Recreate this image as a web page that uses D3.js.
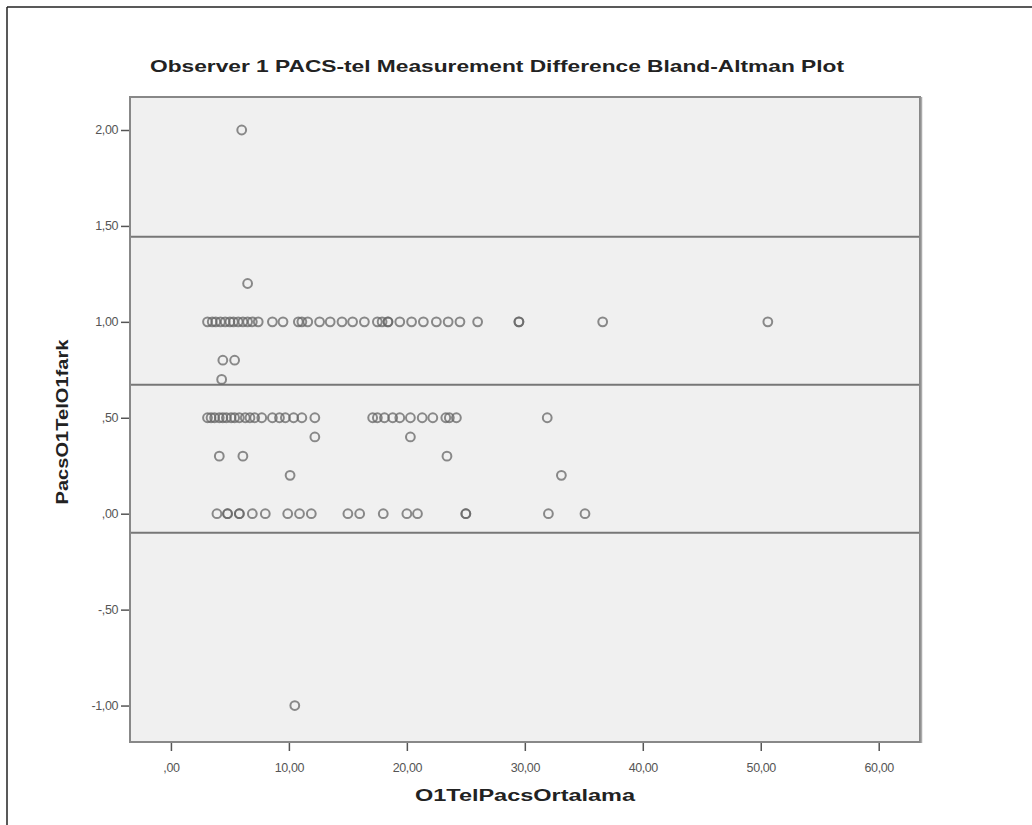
<!DOCTYPE html>
<html>
<head>
<meta charset="utf-8">
<script src="https://cdn.jsdelivr.net/npm/d3@7"></script>
<style>
  body { margin: 0; background: #fff; }
  svg { display: block; font-family: "Liberation Sans", Arial, sans-serif; }
</style>
</head>
<body>
<div id="chart"></div>
<script>
// mean of the two measurements (x) per difference row (y)
const row200 = [6.0];
const row120 = [6.5];
const row100 = [3.1, 3.5, 3.8, 4.2, 4.6, 5.0, 5.3, 5.7, 6.1, 6.5, 6.9, 7.4, 8.6, 9.5, 10.8, 11.1, 11.6,
  12.6, 13.5, 14.5, 15.4, 16.4, 17.5, 17.9, 18.4, 18.4, 19.4, 20.4, 21.4, 22.5, 23.5, 24.5, 26.0,
  29.5, 29.5, 36.6, 50.6];
const row080 = [4.4, 5.4];
const row070 = [4.3];
const row050 = [3.1, 3.4, 3.7, 4.1, 4.4, 4.7, 5.1, 5.4, 5.8, 6.3, 6.7, 7.1, 7.7, 8.6, 9.2, 9.7, 10.4,
  11.1, 12.2, 17.1, 17.5, 18.1, 18.8, 19.4, 20.3, 21.3, 22.2, 23.3, 23.6, 24.2, 31.9];
const row040 = [12.2, 20.3];
const row030 = [4.1, 6.1, 23.4];
const row020 = [10.1, 33.1];
const row000 = [3.9, 4.8, 4.8, 5.8, 5.8, 6.9, 8.0, 9.9, 10.9, 11.9, 15.0, 16.0, 18.0, 20.0, 20.9,
  25.0, 25.0, 32.0, 35.1];
const rowM100 = [10.5];

const rows = [[2.0, row200], [1.2, row120], [1.0, row100], [0.8, row080], [0.7, row070],
  [0.5, row050], [0.4, row040], [0.3, row030], [0.2, row020], [0.0, row000], [-1.0, rowM100]];

// mean difference and limits of agreement
const refLines = [1.443, 0.672, -0.099];

const xTicks = [0, 10, 20, 30, 40, 50, 60];
const yTicks = [-1, -0.5, 0, 0.5, 1, 1.5, 2];

const W = 1032, H = 825;
const plot = { left: 130, right: 920, top: 97, bottom: 742 };

const points = [];
rows.forEach(([d, xs]) => xs.forEach(m => points.push({ x: m, y: d })));

const svg = d3.select('#chart').append('svg')
  .attr('width', W).attr('height', H);

// figure border (top and left visible)
svg.append('line').attr('x1', 7).attr('y1', 7).attr('x2', W).attr('y2', 7)
  .attr('stroke', '#222').attr('stroke-width', 1.5);
svg.append('line').attr('x1', 7).attr('y1', 7).attr('x2', 7).attr('y2', H)
  .attr('stroke', '#222').attr('stroke-width', 1.5);

const x = d3.scaleLinear().domain([-3.47, 63.5]).range([plot.left, plot.right]);
const y = d3.scaleLinear().domain([-1.19, 2.172]).range([plot.bottom, plot.top]);

const fmt = v => {
  const s = Math.abs(v).toFixed(2).replace('.', ',');
  const t = s.startsWith('0') ? s.slice(1) : s;
  return (v < 0 ? '-' : '') + t;
};

svg.append('rect')
  .attr('x', plot.left).attr('y', plot.top)
  .attr('width', plot.right - plot.left).attr('height', plot.bottom - plot.top)
  .attr('fill', '#f0f0f0');

svg.selectAll('.ref')
  .data(refLines)
  .join('line')
  .attr('class', 'ref')
  .attr('x1', plot.left).attr('x2', plot.right)
  .attr('y1', d => y(d)).attr('y2', d => y(d))
  .attr('stroke', '#777').attr('stroke-width', 2);

svg.selectAll('.pt')
  .data(points)
  .join('circle')
  .attr('class', 'pt')
  .attr('cx', d => x(d.x)).attr('cy', d => y(d.y))
  .attr('r', 4.4)
  .attr('fill', 'none')
  .attr('stroke', '#666')
  .attr('stroke-opacity', 0.75)
  .attr('stroke-width', 2);

// frame
svg.append('rect')
  .attr('x', plot.left).attr('y', plot.top)
  .attr('width', plot.right - plot.left).attr('height', plot.bottom - plot.top)
  .attr('fill', 'none').attr('stroke', '#888').attr('stroke-width', 2);
svg.append('line')
  .attr('x1', plot.right + 1.5).attr('x2', plot.right + 1.5)
  .attr('y1', plot.top).attr('y2', plot.bottom + 1)
  .attr('stroke', '#aaa').attr('stroke-width', 1.5);

// axes
const xAxis = svg.append('g')
  .attr('transform', `translate(0,${plot.bottom + 1})`)
  .call(d3.axisBottom(x).tickValues(xTicks).tickFormat(fmt).tickSize(8).tickPadding(12));
const yAxis = svg.append('g')
  .attr('transform', `translate(${plot.left - 1},0)`)
  .call(d3.axisLeft(y).tickValues(yTicks).tickFormat(fmt).tickSize(8).tickPadding(3));
[xAxis, yAxis].forEach(a => {
  a.attr('color', '#555');
  a.select('.domain').remove();
  a.selectAll('.tick line').attr('stroke', '#555').attr('stroke-width', 1.5);
  a.selectAll('.tick text')
    .attr('fill', '#555')
    .attr('font-size', 12.5)
    .attr('font-family', '"Liberation Sans", Arial, sans-serif')
    .attr('letter-spacing', -0.4);
});

svg.append('text')
  .attr('x', 497).attr('y', 72)
  .attr('text-anchor', 'middle')
  .attr('font-size', 17).attr('font-weight', 'bold').attr('fill', '#222')
  .attr('textLength', 694).attr('lengthAdjust', 'spacingAndGlyphs')
  .text('Observer 1 PACS-tel Measurement Difference Bland-Altman Plot');

svg.append('text')
  .attr('x', 525).attr('y', 801)
  .attr('text-anchor', 'middle')
  .attr('font-size', 16).attr('font-weight', 'bold').attr('fill', '#222')
  .attr('textLength', 220).attr('lengthAdjust', 'spacingAndGlyphs')
  .text('O1TelPacsOrtalama');

svg.append('text')
  .attr('transform', 'translate(68,422) rotate(-90)')
  .attr('text-anchor', 'middle')
  .attr('font-size', 16).attr('font-weight', 'bold').attr('fill', '#222')
  .attr('textLength', 165).attr('lengthAdjust', 'spacingAndGlyphs')
  .text('PacsO1TelO1fark');
</script>
</body>
</html>
